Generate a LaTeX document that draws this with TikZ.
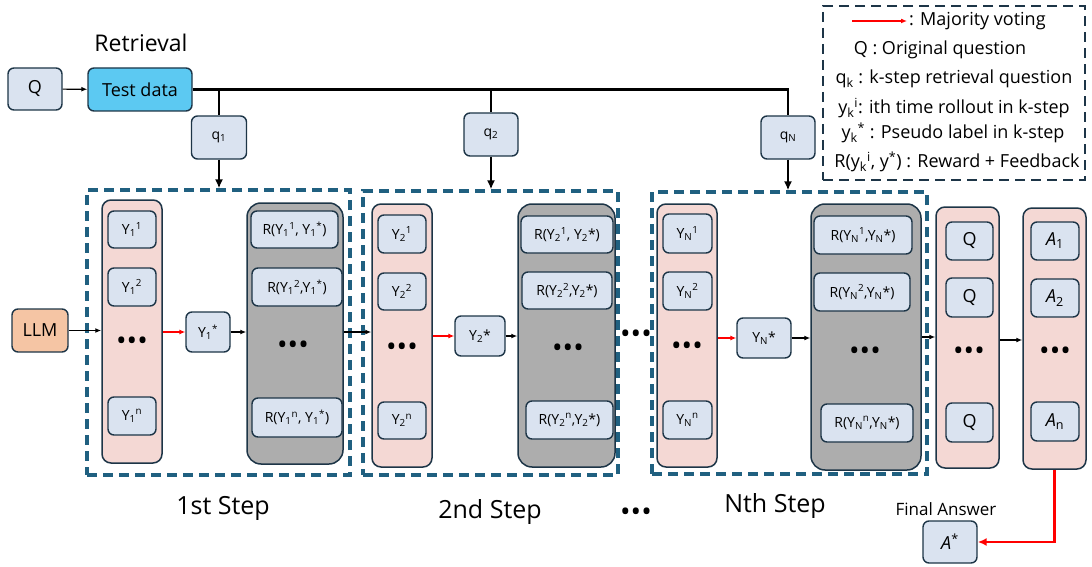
\documentclass[tikz,border=0pt]{standalone}
\usepackage{fontspec}
\setmainfont{Open Sans}
\usetikzlibrary{arrows.meta}
\definecolor{dk}{HTML}{1D3547}
\definecolor{lb}{HTML}{DAE3F0}
\definecolor{cy}{HTML}{5CC9F2}
\definecolor{org}{HTML}{F5C5A4}
\definecolor{pk}{HTML}{F4D8D4}
\definecolor{gr}{HTML}{ADADAD}
\definecolor{dsh}{HTML}{206080}
\begin{document}
\begin{tikzpicture}[x=1pt,y=-1pt,
 bx/.style={draw=dk, line width=1.4pt, rounded corners=6pt, fill=lb, inner sep=0pt, font=\fontsize{14}{16}\selectfont},
 col/.style={draw=dk, line width=1.5pt, rounded corners=9pt, fill=pk, inner sep=0pt},
 gcol/.style={draw=dk, line width=1.5pt, rounded corners=14pt, fill=gr, inner sep=0pt},
 stepbox/.style={draw=dsh, line width=3.2pt, dash pattern=on 10pt off 6pt, inner sep=0pt},
 arr/.style={-{Latex[length=6pt,width=5pt]}, line width=1.2pt},
 rarr/.style={-{Latex[length=6pt,width=5pt]}, line width=1.2pt, draw=red},
 thk/.style={line width=2.6pt},
 tarr/.style={thk, -{Latex[length=9pt,width=8pt]}},
 dots/.style={font=\fontsize{28}{28}\selectfont, inner sep=0pt},
 lbl/.style={font=\fontsize{25}{28}\selectfont, inner sep=0pt},
 leg/.style={font=\fontsize{18}{20}\selectfont, inner sep=0pt},
 big/.style={font=\fontsize{18}{20}\selectfont},
]
\useasboundingbox (0,0) rectangle (1092,567);

% step frames
\node[stepbox, minimum width=263pt, minimum height=285pt] (s1) at (218.5,332.5) {};
\node[stepbox, minimum width=255pt, minimum height=284pt] (s2) at (490.5,333) {};
\node[stepbox, minimum width=275pt, minimum height=282pt] (s3) at (789.5,333) {};

% retrieval
\node[inner sep=0pt, font=\fontsize{23}{26}\selectfont] (ret) at (141,43) {Retrieval};
\node[bx, big, minimum width=54pt, minimum height=42pt] (q0) at (35,89) {Q};
\node[bx, big, fill=cy, minimum width=104pt, minimum height=43pt] (td) at (140,89.5) {Test data};
\node[bx, minimum width=55pt, minimum height=43pt] (q1) at (219,137.5) {q\textsubscript{1}};
\node[bx, minimum width=54pt, minimum height=43pt] (q2) at (491,134.5) {q\textsubscript{2}};
\node[bx, minimum width=54pt, minimum height=43pt] (qN) at (788,137.5) {q\textsubscript{N}};
\draw[arr] (q0) -- (td);
\draw[thk] (td.east) -| (qN.north);
\draw[thk] (td.east -| q1.north) -- (q1.north);
\draw[thk] (td.east -| q2.north) -- (q2.north);
\draw[tarr] (q1.south) -- (q1.south |- s1.north);
\draw[tarr] (q2.south) -- (q2.south |- s2.north);
\draw[tarr] (qN.south) -- (qN.south |- s3.north);

% step 1
\node[bx, big, fill=org, minimum width=56pt, minimum height=43pt] (llm) at (40,330.5) {LLM};
\node[col, minimum width=60pt, minimum height=263pt] (p1) at (132,331.5) {};
\node[bx, minimum width=48pt, minimum height=37pt] (y11) at (132,229.5) {Y\textsubscript{1}\textsuperscript{1}};
\node[bx, minimum width=48pt, minimum height=38pt] (y12) at (132,287) {Y\textsubscript{1}\textsuperscript{2}};
\node[bx, minimum width=48pt, minimum height=38pt] (y1n) at (132,416) {Y\textsubscript{1}\textsuperscript{n}};
\node[dots] (d1) at (132,344) {•••};
\node[bx, minimum width=44pt, minimum height=40pt] (y1s) at (208,332) {Y\textsubscript{1}\textsuperscript{*}};
\node[gcol, minimum width=96pt, minimum height=261pt] (g1) at (295,333.5) {};
\node[bx, minimum width=87pt, minimum height=37pt] (r11) at (294.5,229.5) {R(Y\textsubscript{1}\textsuperscript{1}, Y\textsubscript{1}\textsuperscript{*})};
\node[bx, minimum width=90pt, minimum height=38pt] (r12) at (297,287) {R(Y\textsubscript{1}\textsuperscript{2},Y\textsubscript{1}\textsuperscript{*})};
\node[bx, minimum width=90pt, minimum height=39pt] (r1n) at (297,417.5) {R(Y\textsubscript{1}\textsuperscript{n}, Y\textsubscript{1}\textsuperscript{*})};
\node[dots] (dg1) at (293,348) {•••};
\draw[arr] (llm.east) -- (p1.west |- llm.east);
\draw[rarr] (p1.east |- y1s.west) -- (y1s.west);
\draw[arr] (y1s.east) -- (g1.west |- y1s.east);

% step 2
\node[col, minimum width=60pt, minimum height=263pt] (p2) at (402,335.5) {};
\node[bx, minimum width=48pt, minimum height=38pt] (y21) at (402,234) {Y\textsubscript{2}\textsuperscript{1}};
\node[bx, minimum width=48pt, minimum height=37pt] (y22) at (402,291.5) {Y\textsubscript{2}\textsuperscript{2}};
\node[bx, minimum width=48pt, minimum height=37pt] (y2n) at (402,420.5) {Y\textsubscript{2}\textsuperscript{n}};
\node[dots] (d2) at (402,350) {•••};
\node[bx, minimum width=50pt, minimum height=40pt] (y2s) at (480,336) {Y\textsubscript{2}*};
\node[gcol, minimum width=97pt, minimum height=263pt] (g2) at (566.5,335.5) {};
\node[bx, minimum width=92pt, minimum height=37pt] (r21) at (567,234.5) {R(Y\textsubscript{2}\textsuperscript{1}, Y\textsubscript{2}*)};
\node[bx, minimum width=90pt, minimum height=37pt] (r22) at (567,290.5) {R(Y\textsubscript{2}\textsuperscript{2},Y\textsubscript{2}*)};
\node[bx, minimum width=87pt, minimum height=38pt] (r2n) at (569.5,420) {R(Y\textsubscript{2}\textsuperscript{n},Y\textsubscript{2}*)};
\node[dots] (dg2) at (568,351) {•••};
\draw[arr] (g1.east |- y1s.east) -- (p2.west |- y1s.east);
\draw[rarr] (p2.east |- y2s.west) -- (y2s.west);
\draw[arr] (y2s.east) -- (g2.west |- y2s.east);
\node[dots] (dm) at (636,337) {•••};

% step N
\node[col, minimum width=60pt, minimum height=263pt] (pN) at (687,335.5) {};
\node[bx, minimum width=49pt, minimum height=39pt] (yN1) at (687.5,233.5) {Y\textsubscript{N}\textsuperscript{1}};
\node[bx, minimum width=49pt, minimum height=38pt] (yN2) at (687.5,291) {Y\textsubscript{N}\textsuperscript{2}};
\node[bx, minimum width=49pt, minimum height=38pt] (yNn) at (687.5,420) {Y\textsubscript{N}\textsuperscript{n}};
\node[dots] (dN) at (687,349) {•••};
\node[bx, minimum width=54pt, minimum height=40pt] (yNs) at (764,338) {Y\textsubscript{N}*};
\node[gcol, minimum width=110pt, minimum height=266pt] (gN) at (866,337) {};
\node[bx, minimum width=98pt, minimum height=38pt] (rN1) at (863,235) {R(Y\textsubscript{N}\textsuperscript{1},Y\textsubscript{N}*)};
\node[bx, minimum width=96pt, minimum height=38pt] (rN2) at (862,292) {R(Y\textsubscript{N}\textsuperscript{2},Y\textsubscript{N}*)};
\node[bx, minimum width=92pt, minimum height=38pt] (rNn) at (867,423) {R(Y\textsubscript{N}\textsuperscript{n},Y\textsubscript{N}*)};
\node[dots] (dgN) at (865,354) {•••};
\draw[rarr] (pN.east |- yNs.west) -- (yNs.west);
\draw[arr] (yNs.east) -- (gN.west |- yNs.east);

% answers
\node[col, minimum width=63pt, minimum height=261pt] (qc) at (967.5,337.5) {};
\node[bx, big, minimum width=47pt, minimum height=38pt] (qq1) at (969.5,241) {Q};
\node[bx, big, minimum width=47pt, minimum height=39pt] (qq2) at (969.5,297.5) {Q};
\node[bx, big, minimum width=47pt, minimum height=39pt] (qqn) at (969.5,422.5) {Q};
\node[dots] (dq) at (969,354) {•••};
\node[col, minimum width=63pt, minimum height=261pt] (ac) at (1054.5,338.5) {};
\node[bx, big, minimum width=48pt, minimum height=38pt] (a1) at (1055,241) {\textit{A}\textsubscript{1}};
\node[bx, big, minimum width=48pt, minimum height=38pt] (a2) at (1055,298) {\textit{A}\textsubscript{2}};
\node[bx, big, minimum width=48pt, minimum height=39pt] (an) at (1055,421.5) {\textit{A}\textsubscript{n}};
\node[dots] (da) at (1055,354) {•••};
\draw[arr] (gN.east |- 0,337) -- (qc.west |- 0,337);
\draw[arr] (qc.east |- 0,340) -- (ac.west |- 0,340);
\node[bx, big, minimum width=54pt, minimum height=42pt] (astar) at (950,542) {\textit{A}\textsuperscript{*}};
\node[inner sep=0pt, font=\fontsize{17}{19}\selectfont] (fa) at (946,509) {Final Answer};
\draw[red, line width=2.6pt, -{Latex[length=9pt,width=8pt]}] (ac.south) |- (astar.east);

% step labels
\node[lbl] (l1s) at (223,508) {1st Step};
\node[lbl] (l2s) at (490,512) {2nd Step};
\node[dots] (ldots) at (636,515) {•••};
\node[lbl] (lNs) at (775,506) {Nth Step};

% legend
\node[draw=dk, line width=2.8pt, dash pattern=on 10pt off 6pt, minimum width=262pt, minimum height=174pt, inner sep=0pt] (legend) at (954,93) {};
\coordinate (la) at (852,21);
\coordinate (lb) at (907,21);
\draw[rarr] (la) -- (lb);
\node[leg, anchor=west] (lg1) at (909,21) {: Majority voting};
\node[leg] (lg2) at (940,50) {Q : Original question};
\node[leg] (lg3) at (954,79) {q\textsubscript{k} : k-step retrieval question};
\node[leg] (lg4) at (954,108) {y\textsubscript{k}\textsuperscript{i}: ith time rollout in k-step};
\node[leg] (lg5) at (953,133) {y\textsubscript{k}\textsuperscript{*} : Pseudo label in k-step};
\node[leg] (lg6) at (957,162) {R(y\textsubscript{k}\textsuperscript{i}, y\textsuperscript{*}) : Reward + Feedback};
\end{tikzpicture}
\end{document}
